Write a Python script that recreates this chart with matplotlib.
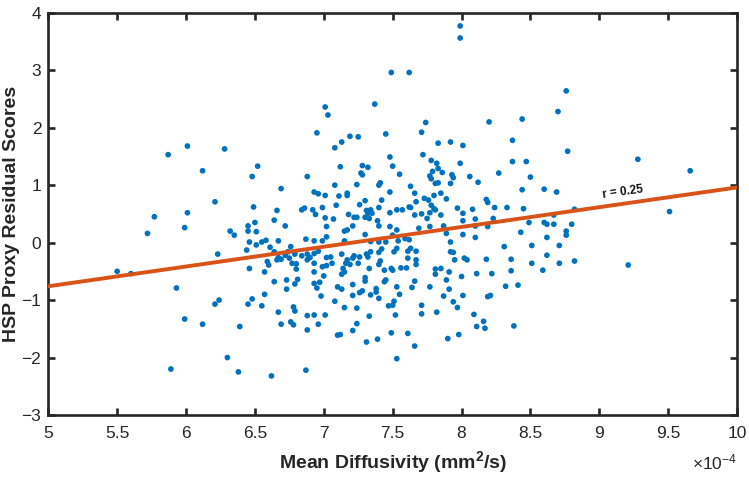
import matplotlib
matplotlib.use("Agg")
import matplotlib.pyplot as plt

plt.rcParams['font.family'] = ['Liberation Sans', 'DejaVu Sans']
plt.rcParams['mathtext.fontset'] = 'custom'
plt.rcParams['mathtext.rm'] = 'Liberation Sans'
plt.rcParams['mathtext.bf'] = 'Liberation Sans:bold'
plt.rcParams['mathtext.it'] = 'Liberation Sans:italic'

# Mean diffusivity (x 1e-4 mm^2/s) and HSP proxy residual scores
md = [5.87, 5.77, 5.72, 5.50, 5.60, 5.93, 5.89,
      7.49, 7.62, 7.99, 7.99, 8.76, 9.28, 9.66, 9.51,
      6.30, 6.38, 6.62, 6.87, 7.53,
      7.01, 7.03, 6.95, 6.01, 6.28, 6.12, 6.52, 6.48, 6.88, 6.69, 6.93, 6.96, 7.01, 6.21, 6.01, 6.49, 6.66,
      6.84, 6.86, 6.92, 6.94, 6.99, 6.64, 7.01, 6.50,
      7.37, 7.74, 7.71, 7.45, 7.19, 7.25, 7.13, 7.08, 7.83, 7.92, 8.01, 7.72, 7.48, 7.78, 7.82, 7.99, 7.28,
      7.32, 7.12, 7.50, 7.83, 7.79, 7.86, 7.27, 7.28, 7.55, 7.77, 7.93, 7.94, 8.06, 7.78, 7.83, 7.81, 7.40,
      7.41, 7.24, 7.08, 8.12, 7.63, 7.92, 7.66, 7.48, 7.85, 7.17, 7.17, 7.11, 7.80, 7.73, 7.76, 7.89, 7.42,
      7.30, 7.09, 7.26, 7.67, 7.78, 7.62, 7.63, 7.80, 7.81, 7.97, 8.08, 7.40, 7.31, 7.34, 7.32, 7.35, 7.53,
      7.57, 7.48, 7.18, 7.77, 7.71, 7.66, 8.01, 7.85, 7.07, 7.22, 7.24, 7.30, 7.33, 7.75, 7.39, 8.01, 8.10,
      8.70, 8.20, 8.44, 8.37, 8.77, 8.37, 8.47, 8.27, 8.50, 8.44, 8.60, 8.69, 8.18, 8.19, 8.24, 8.33, 8.45,
      8.23, 8.67, 8.82,
      5.99, 6.32, 6.35, 6.45, 6.45, 6.51, 6.72, 7.02, 6.46, 6.51, 6.55, 6.58, 6.67, 6.44, 6.61, 6.23, 6.64,
      6.74, 6.76, 6.72, 6.87, 6.93, 6.99, 7.02, 6.79, 6.84, 6.88, 6.93, 6.96, 7.02, 6.59, 6.60, 6.66, 6.67,
      6.69, 6.75, 6.77, 6.80, 6.88, 6.90, 6.93, 6.99, 7.02, 6.46, 6.57, 6.80, 6.93, 7.00, 6.64, 6.73, 6.81,
      6.79, 6.73, 6.93, 6.95, 6.97, 6.98, 6.57, 6.48, 6.45, 6.55, 6.24, 6.21, 5.99, 6.12, 6.39, 6.67, 6.78,
      6.79, 6.69, 6.76, 6.78, 6.88, 6.93, 7.01, 6.96, 6.88,
      7.15, 7.17, 7.21, 7.30, 7.40, 7.48, 7.53, 7.50, 7.69, 7.77, 7.87, 7.89, 8.01, 8.10, 8.10, 7.15, 7.34,
      7.40, 7.45, 7.54, 7.59, 7.62, 7.92, 7.63, 7.67, 7.61, 7.53, 7.51, 7.42, 7.40, 7.34, 7.31, 7.32, 7.13,
      7.05, 7.22, 7.21, 7.26, 7.17, 7.16, 7.19, 7.06, 7.25, 7.14, 7.15, 7.13, 7.33, 7.41, 7.40, 7.44, 7.49,
      7.50, 7.56, 7.60, 7.61, 7.67, 7.67, 7.92, 7.94, 7.95, 8.02, 8.04, 8.11, 7.81, 7.85, 7.81, 7.91, 8.00,
      7.89, 7.77, 7.91, 7.87, 8.01, 7.94, 7.97, 8.09, 8.11, 7.66, 7.64, 7.53, 7.45, 7.44, 7.30, 7.30, 7.21,
      7.10, 7.13, 7.28, 7.26, 7.38, 7.38, 7.34, 7.21, 7.40, 7.55, 7.51, 7.50, 7.47, 7.08, 7.15, 7.24, 7.71,
      7.71, 7.52, 7.82, 7.33, 7.24, 7.21, 7.10, 7.12, 7.49, 7.61, 7.31, 7.39, 7.66, 7.90, 7.98,
      8.49, 8.60, 8.62, 8.67, 8.80, 8.19, 8.43, 8.62, 8.76, 8.76, 8.31, 8.51, 8.71, 8.62, 8.18, 8.36, 8.51,
      8.71, 8.82, 8.59, 8.36, 8.22, 9.21, 8.32, 8.41, 8.19, 8.21, 8.16, 8.17, 8.38]

hsp = [1.53, 0.45, 0.16, -0.50, -0.54, -0.79, -2.20,
       2.96, 2.96, 3.77, 3.56, 2.64, 1.45, 1.25, 0.54,
       -2.00, -2.25, -2.32, -2.22, -2.02,
       2.36, 2.22, 1.91, 1.68, 1.63, 1.25, 1.33, 1.15, 1.15, 0.94, 0.88, 0.85, 0.82, 0.71, 0.52, 0.62, 0.56,
       0.57, 0.60, 0.57, 0.49, 0.61, 0.39, 0.43, 0.35,
       2.41, 2.09, 1.92, 1.89, 1.85, 1.84, 1.75, 1.65, 1.73, 1.75, 1.69, 1.53, 1.49, 1.43, 1.38, 1.38, 1.34,
       1.31, 1.32, 1.33, 1.29, 1.24, 1.22, 1.21, 1.18, 1.19, 1.16, 1.18, 1.13, 1.15, 1.11, 1.04, 1.03, 1.00,
       1.04, 1.01, 1.00, 1.05, 0.98, 1.03, 0.86, 0.88, 0.86, 0.86, 0.82, 0.81, 0.82, 0.77, 0.74, 0.76, 0.74,
       0.73, 0.65, 0.66, 0.71, 0.65, 0.62, 0.61, 0.59, 0.57, 0.60, 0.58, 0.61, 0.56, 0.57, 0.51, 0.51, 0.57,
       0.57, 0.52, 0.49, 0.52, 0.50, 0.48, 0.51, 0.48, 0.41, 0.44, 0.44, 0.44, 0.42, 0.42, 0.38, 0.38, 0.41,
       2.28, 2.10, 2.15, 1.78, 1.59, 1.41, 1.41, 1.21, 1.14, 0.92, 0.93, 0.88, 0.75, 0.70, 0.61, 0.61, 0.59,
       0.42, 0.48, 0.58,
       0.26, 0.20, 0.13, 0.29, 0.20, 0.19, 0.29, 0.28, 0.01, -0.04, 0.01, 0.04, 0.03, -0.13, -0.08, -0.20,
       -0.16, -0.16, -0.07, -0.22, 0.06, 0.03, 0.03, 0.10, -0.20, -0.23, -0.20, -0.19, -0.15, -0.26, -0.33,
       -0.39, -0.30, -0.26, -0.29, -0.27, -0.36, -0.37, -0.30, -0.26, -0.36, -0.42, -0.40, -0.45, -0.51,
       -0.46, -0.51, -0.58, -0.68, -0.65, -0.64, -0.72, -0.81, -0.71, -0.79, -0.69, -0.93, -0.90, -0.98,
       -1.07, -1.10, -1.00, -1.07, -1.33, -1.42, -1.46, -1.21, -1.12, -1.19, -1.42, -1.38, -1.43, -1.27,
       -1.26, -1.26, -1.42, -1.52,
       0.20, 0.22, 0.29, 0.14, 0.29, 0.28, 0.22, 0.13, 0.25, 0.28, 0.29, 0.16, 0.14, 0.29, 0.09, 0.03, 0.02,
       0.01, 0.01, 0.03, 0.07, 0.05, 0.01, -0.10, -0.15, -0.15, -0.10, -0.16, -0.11, -0.17, -0.16, -0.20,
       -0.25, -0.20, -0.25, -0.23, -0.27, -0.25, -0.30, -0.36, -0.38, -0.36, -0.36, -0.45, -0.51, -0.55,
       -0.45, -0.32, -0.38, -0.48, -0.45, -0.48, -0.44, -0.44, -0.27, -0.30, -0.38, -0.16, -0.17, -0.30,
       -0.27, -0.30, -0.54, -0.46, -0.45, -0.55, -0.51, -0.59, -0.65, -0.77, -0.81, -0.93, -0.92, -1.03,
       -1.13, -1.25, -1.46, -0.67, -0.78, -0.77, -0.65, -0.68, -0.61, -0.67, -0.73, -0.77, -0.81, -0.84,
       -0.87, -0.80, -0.86, -0.91, -0.92, -0.97, -0.90, -1.02, -1.09, -1.10, -1.02, -1.13, -1.14, -1.09,
       -1.24, -1.26, -1.21, -1.28, -1.41, -1.53, -1.61, -1.60, -1.57, -1.58, -1.73, -1.68, -1.80, -1.67,
       -1.60,
       0.35, 0.35, 0.32, 0.32, 0.32, 0.28, 0.18, 0.09, 0.20, 0.13, -0.07, -0.05, -0.05, -0.22, -0.29, -0.29,
       -0.36, -0.36, -0.32, -0.48, -0.49, -0.54, -0.39, -0.76, -0.74, -0.94, -0.92, -1.37, -1.49, -1.45]

# Least-squares line end points
fit_x = [5.0, 10.0]
fit_y = [-0.76, 0.96]
r_label = "r = 0.25"

x_ticks = [5, 5.5, 6, 6.5, 7, 7.5, 8, 8.5, 9, 9.5, 10]
x_ticklabels = ["5", "5.5", "6", "6.5", "7", "7.5", "8", "8.5", "9", "9.5", "10"]
y_ticks = [-3, -2, -1, 0, 1, 2, 3, 4]

dark = '#262626'
fig = plt.figure(figsize=(7.49, 4.80), dpi=100)
ax = fig.add_axes([0.0645, 0.1354, 0.9195, 0.8381])

ax.scatter(md, hsp, s=17, color='#0072BD', edgecolors='none', zorder=2)
ax.plot(fit_x, fit_y, color='#D95319', linewidth=2.8, zorder=3)
ax.text(9.17, 0.87, r_label, fontsize=8.5, fontweight='bold', rotation=8,
        ha='center', va='center', color='#111111', zorder=4)

ax.set_xlim(5, 10)
ax.set_ylim(-3, 4)
ax.set_xticks(x_ticks)
ax.set_xticklabels(x_ticklabels)
ax.set_yticks(y_ticks)

for sp in ax.spines.values():
    sp.set_color(dark)
    sp.set_linewidth(1.9)
ax.tick_params(direction='in', length=5, width=1.9, top=True, right=True,
               labelsize=12.5, colors=dark, labelcolor=dark)
ax.tick_params(axis='x', pad=8)
ax.tick_params(axis='y', pad=5)

ax.set_xlabel('Mean Diffusivity (mm$^{\\mathbf{2}}$/s)', fontsize=14,
              fontweight='bold', color=dark, labelpad=6)
ax.set_ylabel('HSP Proxy Residual Scores', fontsize=14, fontweight='bold',
              color=dark, labelpad=1)
ax.text(1.0, -0.118, '$\\times$10$^{-4}$', transform=ax.transAxes,
        ha='right', va='center', fontsize=12.5, color=dark)

fig.savefig('out.png', dpi=100)
